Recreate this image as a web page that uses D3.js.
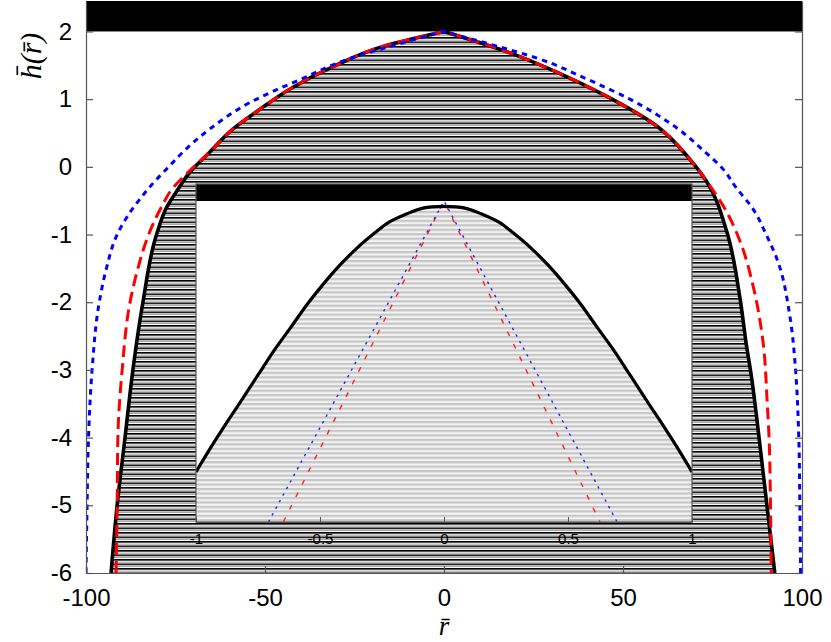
<!DOCTYPE html>
<html>
<head>
<meta charset="utf-8">
<script src="https://cdn.jsdelivr.net/npm/d3@7"></script>
<style>
	body { margin: 0; background: #fff; }
	svg { display: block; }
</style>
</head>
<body>
<div id="container"></div>
<script>
// main plot: r in [-100,100], h(r) in [-6, 2.45]
var xTicks = [-100, -50, 0, 50, 100];
var yTicks = [-6, -5, -4, -3, -2, -1, 0, 1, 2];

// black solid curve (boundary of hatched region)
var blackR = [-93, -91.3, -89.1, -86.9, -84.1, -80.3, -77.5, -74.3, -71, -65.4, -58.9, -51.4, -43, -31, -17, 0,
	17.6, 31.5, 45.5, 59.5, 68.7, 73.4, 79, 82.7, 84.6, 85.6, 88, 90.2, 92.4];
var blackH = [-6, -5, -4, -3, -2, -1, -0.6, -0.33, -0.08, 0.22, 0.56, 0.85, 1.15, 1.48, 1.78, 2,
	1.7, 1.4, 1.04, 0.6, 0.11, -0.22, -0.96, -1.95, -2.68, -3, -4, -5, -6];

// red dashed curve
var redR = [-91.6, -91.3, -91.1, -89.9, -87.7, -85.5, -82.5, -79, -76, -71.5, -65.4, -58.9, -51.4, -43, -31, -17, 0,
	17.6, 31.5, 45.5, 59.5, 68.7, 74.3, 79, 82.7, 86.3, 89.1, 90.3, 90.8, 91.2, 91.4];
var redH = [-6, -5, -4, -3, -2, -1.5, -1, -0.6, -0.33, -0.08, 0.22, 0.56, 0.85, 1.15, 1.48, 1.78, 2,
	1.7, 1.4, 1.04, 0.6, 0.11, -0.28, -0.67, -1.1, -1.75, -2.58, -3.5, -4, -5, -6];

// blue dotted curve
var blueR = [-100, -99.7, -99.3, -98.3, -96.3, -94.3, -91.3, -88.3, -85, -80.2, -76.9, -72.9, -65.4, -54.2, -40.2, -26.3, -13, 0,
	13, 26.3, 40.2, 51.9, 65.4, 72.9, 77.9, 81.5, 86.3, 90, 93, 96.6, 98.2, 99.1, 99.4, 99.6];
var blueH = [-6, -5, -4, -3, -2, -1.5, -1, -0.72, -0.48, -0.18, 0, 0.22, 0.56, 0.95, 1.29, 1.6, 1.81, 2,
	1.81, 1.6, 1.29, 1.0, 0.56, 0.22, -0.03, -0.3, -0.62, -1.0, -1.36, -2.2, -3, -4, -5, -6];

// inset: r in [-1,1]
var insetTicks = [-1, -0.5, 0, 0.5, 1];
var insetTickLabels = ["-1", "-0.5", "0", "0.5", "1"];
var insetBlackR = [-1, -0.95, -0.89, -0.82, -0.75, -0.68, -0.62, -0.55, -0.49, -0.42, -0.35, -0.28, -0.22, -0.15, -0.085, 0,
	0.085, 0.15, 0.22, 0.28, 0.35, 0.42, 0.49, 0.55, 0.62, 0.68, 0.75, 0.82, 0.89, 0.95, 1];
var insetBlackH = [-0.844, -0.78, -0.707, -0.625, -0.542, -0.46, -0.396, -0.32, -0.262, -0.2, -0.146, -0.1, -0.065, -0.04, -0.022, -0.017,
	-0.022, -0.04, -0.065, -0.1, -0.146, -0.2, -0.262, -0.32, -0.396, -0.46, -0.542, -0.625, -0.707, -0.78, -0.844];
var insetRedR = [-0.648, 0, 0.629];
var insetRedH = [-1, 0, -1];
var insetBlueR = [-0.708, 0, 0.698];
var insetBlueH = [-1, 0, -1];

var W = 831, H = 642;
var margin = {top: 1, right: 29, bottom: 69, left: 86},
	width = W - margin.left - margin.right,
	height = H - margin.top - margin.bottom;

var x = d3.scaleLinear().domain([-100, 100]).range([0, width]);
var y = d3.scaleLinear().domain([-6, 2.45]).range([height, 0]);

var svg = d3.select("#container").append("svg")
	.attr("width", W)
	.attr("height", H);

var defs = svg.append("defs");

var hatch = defs.append("pattern")
	.attr("id", "mainHatch")
	.attr("patternUnits", "userSpaceOnUse")
	.attr("width", 10)
	.attr("height", 4.5);
hatch.append("rect").attr("width", 10).attr("height", 4.5).attr("fill", "#fff");
hatch.append("rect").attr("y", 0).attr("width", 10).attr("height", 1.6).attr("fill", "#000");
hatch.append("rect").attr("y", 2.6).attr("width", 10).attr("height", 0.9).attr("fill", "#8c8c8c");

var hatch2 = defs.append("pattern")
	.attr("id", "insetHatch")
	.attr("patternUnits", "userSpaceOnUse")
	.attr("width", 10)
	.attr("height", 4.47);
hatch2.append("rect").attr("width", 10).attr("height", 4.47).attr("fill", "#f2f2f2");
hatch2.append("rect").attr("y", 0).attr("width", 10).attr("height", 2.2).attr("fill", "#c6c6c6");

defs.append("clipPath")
	.attr("id", "mainClip")
	.append("rect")
	.attr("width", width)
	.attr("height", height);

var g = svg.append("g").attr("transform", "translate(" + margin.left + "," + margin.top + ")");

function zip(rs, hs) {
	return rs.map(function(r, i) { return {r: r, h: hs[i]}; });
}

// each half is monotone in h, so a monotoneY curve keeps it smooth and the cusp at r = 0 sharp
function cuspPath(pts, xs, ys) {
	var line = d3.line().x(function(d) { return xs(d.r); }).y(function(d) { return ys(d.h); })
		.curve(d3.curveMonotoneY);
	var left = pts.filter(function(d) { return d.r <= 0; });
	var right = pts.filter(function(d) { return d.r >= 0; });
	return line(left) + line(right).replace(/^M/, "L");
}

var blackPts = zip(blackR, blackH),
	redPts = zip(redR, redH),
	bluePts = zip(blueR, blueH);

var plot = g.append("g").attr("clip-path", "url(#mainClip)");

// hatched region under the black curve
plot.append("path")
	.attr("d", cuspPath(blackPts, x, y) +
		"L" + x(blackR[blackR.length - 1]) + "," + y(-6.5) +
		"L" + x(blackR[0]) + "," + y(-6.5) + "Z")
	.attr("fill", "url(#mainHatch)");

// black band above h = 2
plot.append("rect")
	.attr("x", 0)
	.attr("y", y(2.6))
	.attr("width", width)
	.attr("height", y(2) - y(2.6))
	.attr("fill", "#000");

plot.append("path")
	.attr("d", cuspPath(blackPts, x, y))
	.attr("fill", "none")
	.attr("stroke", "#000")
	.attr("stroke-width", 3.6)
	.attr("stroke-linejoin", "round");

plot.append("path")
	.attr("d", cuspPath(redPts, x, y))
	.attr("fill", "none")
	.attr("stroke", "#f00")
	.attr("stroke-width", 3)
	.attr("stroke-dasharray", "12,6");

plot.append("path")
	.attr("d", cuspPath(bluePts, x, y))
	.attr("fill", "none")
	.attr("stroke", "#00f")
	.attr("stroke-width", 3)
	.attr("stroke-dasharray", "5.5,5");

// axes
var axisFont = "'Liberation Sans', Arial, Helvetica, sans-serif";
var plain = function(d) { return String(d); };

var xAxis = d3.axisBottom(x).tickValues(xTicks).tickFormat(plain).tickSize(-7).tickSizeOuter(0).tickPadding(16);
var yAxis = d3.axisLeft(y).tickValues(yTicks).tickFormat(plain).tickSize(-7).tickSizeOuter(0).tickPadding(14);
var yAxisR = d3.axisRight(y).tickValues(yTicks).tickSize(-7).tickSizeOuter(0).tickFormat("");

function styleAxis(sel) {
	sel.attr("font-family", axisFont).attr("font-size", 24);
	sel.selectAll("path.domain").attr("stroke", "#555").attr("stroke-width", 1.2);
	sel.selectAll(".tick line").attr("stroke", "#555").attr("stroke-width", 1.2);
	sel.selectAll(".tick text").attr("fill", "#000");
}

g.append("g").attr("transform", "translate(0," + height + ")").call(xAxis).call(styleAxis);
g.append("g").call(yAxis).call(styleAxis);
g.append("g").attr("transform", "translate(" + width + ",0)").call(yAxisR).call(styleAxis);

// axis titles
g.append("text")
	.attr("x", x(0))
	.attr("y", height + 62)
	.attr("text-anchor", "middle")
	.attr("font-family", "'Liberation Serif', 'DejaVu Serif', serif")
	.attr("font-style", "italic")
	.attr("font-size", 27)
	.text("r\u0304");

svg.append("text")
	.attr("transform", "translate(41,56) rotate(-90)")
	.attr("text-anchor", "middle")
	.attr("font-family", "'Liberation Serif', 'DejaVu Serif', serif")
	.attr("font-style", "italic")
	.attr("font-size", 30)
	.text("h\u0304(r\u0304)");

// ---- inset ----
var inset = {left: 196, top: 184, width: 496, height: 338};
var ix = d3.scaleLinear().domain([-1, 1]).range([0, inset.width]);
var iy = d3.scaleLinear().domain([-1, 0.053]).range([inset.height, 0]);

defs.append("clipPath")
	.attr("id", "insetClip")
	.append("rect")
	.attr("width", inset.width)
	.attr("height", inset.height);

var ig = svg.append("g").attr("transform", "translate(" + inset.left + "," + inset.top + ")");

ig.append("rect")
	.attr("width", inset.width)
	.attr("height", inset.height)
	.attr("fill", "#fff");

var iplot = ig.append("g").attr("clip-path", "url(#insetClip)");

var insetLine = d3.line().x(function(d) { return ix(d.r); }).y(function(d) { return iy(d.h); })
	.curve(d3.curveCatmullRom.alpha(0.5));
var insetArea = d3.area().x(function(d) { return ix(d.r); }).y0(iy(-1.1)).y1(function(d) { return iy(d.h); })
	.curve(d3.curveCatmullRom.alpha(0.5));

var insetBlack = zip(insetBlackR, insetBlackH);

iplot.append("path")
	.attr("d", insetArea(insetBlack))
	.attr("fill", "url(#insetHatch)");

iplot.append("rect")
	.attr("x", 0)
	.attr("y", iy(0.2))
	.attr("width", inset.width)
	.attr("height", iy(0) - iy(0.2))
	.attr("fill", "#000");

var straight = d3.line().x(function(d) { return ix(d.r); }).y(function(d) { return iy(d.h); });

iplot.append("path")
	.attr("d", straight(zip(insetRedR, insetRedH)))
	.attr("fill", "none")
	.attr("stroke", "#f22")
	.attr("stroke-width", 1.4)
	.attr("stroke-dasharray", "5,9");

iplot.append("path")
	.attr("d", straight(zip(insetBlueR, insetBlueH)))
	.attr("fill", "none")
	.attr("stroke", "#22f")
	.attr("stroke-width", 1.4)
	.attr("stroke-dasharray", "2.5,5");

iplot.append("path")
	.attr("d", insetLine(insetBlack))
	.attr("fill", "none")
	.attr("stroke", "#000")
	.attr("stroke-width", 3.2);

ig.append("rect")
	.attr("width", inset.width)
	.attr("height", inset.height)
	.attr("fill", "none")
	.attr("stroke", "#555")
	.attr("stroke-width", 1.2);

var ixAxis = d3.axisBottom(ix).tickValues(insetTicks).tickSize(-5).tickSizeOuter(0).tickPadding(11)
	.tickFormat(function(d, i) { return insetTickLabels[i]; });

ig.append("g")
	.attr("transform", "translate(0," + inset.height + ")")
	.call(ixAxis)
	.call(function(sel) {
		sel.attr("font-family", axisFont).attr("font-size", 15);
		sel.selectAll("path.domain").attr("stroke", "#555");
		sel.selectAll(".tick line").attr("stroke", "#555");
		sel.selectAll(".tick text").attr("fill", "#000");
	});
</script>
</body>
</html>
